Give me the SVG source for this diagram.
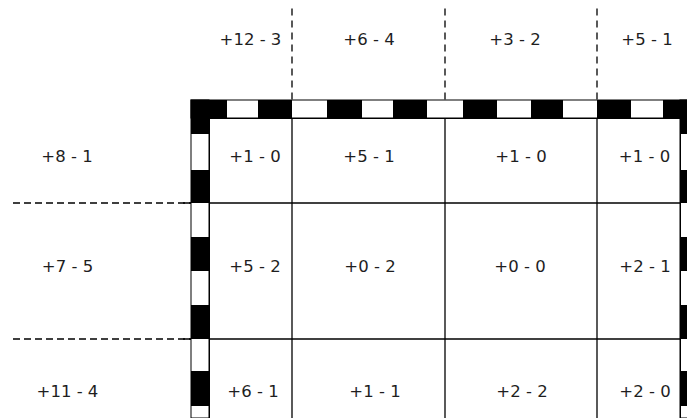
<svg xmlns="http://www.w3.org/2000/svg" width="687" height="418" viewBox="0 0 687 418">
<style>
.t{font-family:"DejaVu Sans","Liberation Sans",sans-serif;font-size:16.5px;fill:#1e1e1e;text-anchor:middle}
.g{stroke:#000;stroke-width:1.3;fill:none}
.d{stroke:#000;stroke-width:1.3;fill:none;stroke-dasharray:7 5}
.b{fill:#000}
</style>
<rect width="687" height="418" fill="#fff"/>
<g id="connectors">
<line class="d" x1="292" y1="8.5" x2="292" y2="100"/>
<line class="d" x1="445" y1="8.5" x2="445" y2="100"/>
<line class="d" x1="597" y1="8.5" x2="597" y2="100"/>
<line class="d" x1="13" y1="203" x2="191" y2="203" style="stroke-dasharray:7 4"/>
<line class="d" x1="13" y1="339" x2="191" y2="339" style="stroke-dasharray:7 4"/>
<line class="g" x1="292" y1="100" x2="292" y2="418"/>
<line class="g" x1="445" y1="100" x2="445" y2="418"/>
<line class="g" x1="597" y1="100" x2="597" y2="418"/>
<line class="g" x1="183" y1="203" x2="687" y2="203"/>
<line class="g" x1="183" y1="339" x2="687" y2="339"/>
</g>
<g id="border">
<path d="M191.5 418 V100.5 H698 M209.5 418 V118.5 H680.5 V418 M698 118.5" fill="none" stroke="#000" stroke-width="1"/>
<rect x="191" y="100" width="18" height="318" fill="#fff" stroke="#000" stroke-width="1"/>
<rect x="191" y="100" width="510" height="18" fill="#fff" stroke="#000" stroke-width="1"/>
<rect x="680" y="100" width="18" height="318" fill="#fff" stroke="#000" stroke-width="1"/>
<rect x="680" y="117" width="10" height="2" fill="#fff"/>
<rect x="191" y="117" width="18" height="2" fill="#fff"/>
<line x1="209.5" y1="118" x2="209.5" y2="418" stroke="#000" stroke-width="1"/>
<line x1="209" y1="118.5" x2="680" y2="118.5" stroke="#000" stroke-width="1"/>
<line x1="680.5" y1="118" x2="680.5" y2="418" stroke="#000" stroke-width="1"/>
<!-- top band black segments -->
<rect class="b" x="191" y="100" width="36" height="18"/>
<rect class="b" x="258" y="100" width="34" height="18"/>
<rect class="b" x="327" y="100" width="35" height="18"/>
<rect class="b" x="393" y="100" width="34" height="18"/>
<rect class="b" x="463" y="100" width="34" height="18"/>
<rect class="b" x="531" y="100" width="32" height="18"/>
<rect class="b" x="597" y="100" width="34" height="18"/>
<rect class="b" x="663" y="100" width="35" height="18"/>
<!-- left band black segments -->
<rect class="b" x="191" y="100" width="18" height="34"/>
<rect class="b" x="191" y="170" width="18" height="33"/>
<rect class="b" x="191" y="237" width="18" height="34"/>
<rect class="b" x="191" y="305" width="18" height="34"/>
<rect class="b" x="191" y="371" width="18" height="35"/>
<!-- right band black segments -->
<rect class="b" x="680" y="100" width="18" height="34"/>
<rect class="b" x="680" y="170" width="18" height="33"/>
<rect class="b" x="680" y="237" width="18" height="34"/>
<rect class="b" x="680" y="305" width="18" height="34"/>
<rect class="b" x="680" y="371" width="18" height="35"/>
</g>
<g id="n-top-1"><text class="t" x="250.5" y="45">+12 - 3</text></g>
<g id="n-top-2"><text class="t" x="369" y="45">+6 - 4</text></g>
<g id="n-top-3"><text class="t" x="515" y="45">+3 - 2</text></g>
<g id="n-top-4"><text class="t" x="647" y="45">+5 - 1</text></g>
<g id="n-r1-0"><text class="t" x="67" y="162">+8 - 1</text></g>
<g id="n-r1-1"><text class="t" x="255" y="162">+1 - 0</text></g>
<g id="n-r1-2"><text class="t" x="369" y="162">+5 - 1</text></g>
<g id="n-r1-3"><text class="t" x="521" y="162">+1 - 0</text></g>
<g id="n-r1-4"><text class="t" x="644.5" y="162">+1 - 0</text></g>
<g id="n-r2-0"><text class="t" x="67.5" y="272">+7 - 5</text></g>
<g id="n-r2-1"><text class="t" x="255" y="272">+5 - 2</text></g>
<g id="n-r2-2"><text class="t" x="370" y="272">+0 - 2</text></g>
<g id="n-r2-3"><text class="t" x="520" y="272">+0 - 0</text></g>
<g id="n-r2-4"><text class="t" x="645" y="272">+2 - 1</text></g>
<g id="n-r3-0"><text class="t" x="67.5" y="397">+11 - 4</text></g>
<g id="n-r3-1"><text class="t" x="253" y="397">+6 - 1</text></g>
<g id="n-r3-2"><text class="t" x="375" y="397">+1 - 1</text></g>
<g id="n-r3-3"><text class="t" x="522" y="397">+2 - 2</text></g>
<g id="n-r3-4"><text class="t" x="645" y="397">+2 - 0</text></g>
</svg>
